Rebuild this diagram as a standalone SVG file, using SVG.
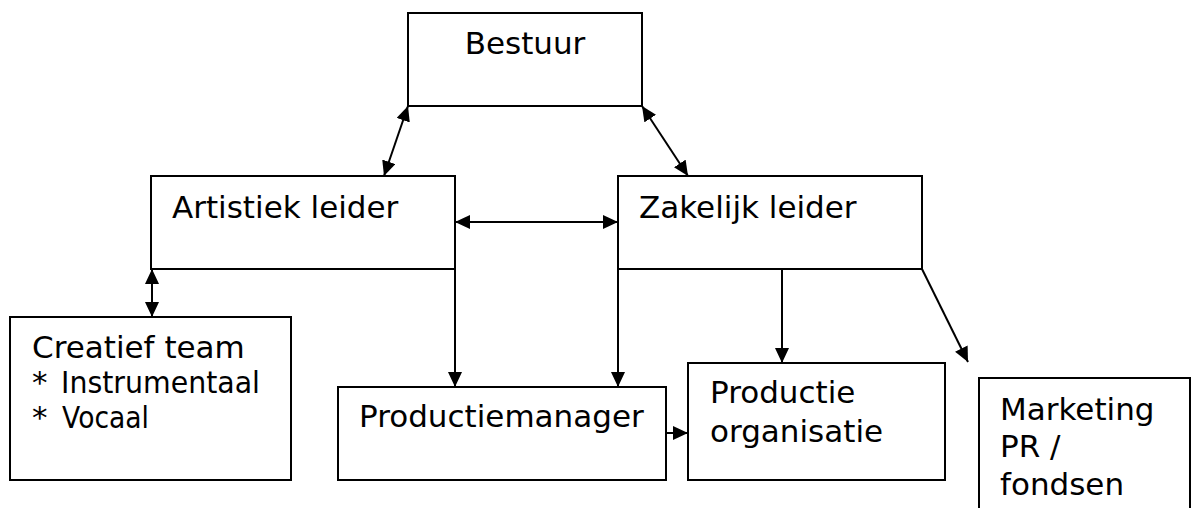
<svg xmlns="http://www.w3.org/2000/svg" width="1193" height="508" viewBox="0 0 1193 508">
<style>
.box{fill:#fff;stroke:#000;stroke-width:2}
.t{font-family:"DejaVu Sans",Verdana,sans-serif;font-size:31px;fill:#000}
.c{stroke:#000;stroke-width:2;fill:none}
</style>
<defs>
<marker id="ah" viewBox="0 0 15 14" refX="15" refY="7" markerWidth="15" markerHeight="14" markerUnits="userSpaceOnUse" orient="auto-start-reverse">
<path d="M0,0 L15,7 L0,14 z" fill="#000"/>
</marker>
</defs>
<rect width="1193" height="508" fill="#fff"/>
<g id="bestuur"><rect class="box" x="408" y="13" width="234" height="93"/><text class="t" x="525" y="54" text-anchor="middle">Bestuur</text></g>
<g id="artistiek"><rect class="box" x="151" y="176" width="304" height="93"/><text class="t" x="172" y="218">Artistiek leider</text></g>
<g id="zakelijk"><rect class="box" x="618" y="176" width="304" height="93"/><text class="t" x="639" y="218">Zakelijk leider</text></g>
<g id="creatief"><rect class="box" x="10" y="317" width="281" height="163"/><text class="t" x="32" y="358">Creatief team</text><text class="t" y="393"><tspan x="32">*</tspan><tspan x="61" textLength="199" lengthAdjust="spacingAndGlyphs">Instrumentaal</tspan></text><text class="t" y="428"><tspan x="32">*</tspan><tspan x="62" textLength="87" lengthAdjust="spacingAndGlyphs">Vocaal</tspan></text></g>
<g id="productiemanager"><rect class="box" x="338" y="387" width="328" height="93"/><text class="t" x="359" y="427">Productiemanager</text></g>
<g id="productieorganisatie"><rect class="box" x="688" y="363" width="257" height="117"/><text class="t" x="710" y="403">Productie</text><text class="t" x="710" y="442">organisatie</text></g>
<g id="marketing"><path class="box" d="M979,512 L979,378 L1190,378 L1190,512"/><text class="t" x="1000" y="420">Marketing</text><text class="t" x="1000" y="457">PR /</text><text class="t" x="1000" y="495">fondsen</text></g>
<g id="connectors">
<line class="c" x1="408" y1="106" x2="384" y2="176" marker-start="url(#ah)" marker-end="url(#ah)"/>
<line class="c" x1="642" y1="106" x2="688" y2="176" marker-start="url(#ah)" marker-end="url(#ah)"/>
<line class="c" x1="455" y1="222" x2="618" y2="222" marker-start="url(#ah)" marker-end="url(#ah)"/>
<line class="c" x1="152" y1="269" x2="152" y2="317" marker-start="url(#ah)" marker-end="url(#ah)"/>
<line class="c" x1="455" y1="269" x2="455" y2="387" marker-end="url(#ah)"/>
<line class="c" x1="618" y1="269" x2="618" y2="387" marker-end="url(#ah)"/>
<line class="c" x1="782" y1="269" x2="782" y2="363" marker-end="url(#ah)"/>
<line class="c" x1="922" y1="269" x2="968" y2="362" marker-end="url(#ah)"/>
<line class="c" x1="666" y1="433" x2="688" y2="433" marker-end="url(#ah)"/>
</g>
</svg>
